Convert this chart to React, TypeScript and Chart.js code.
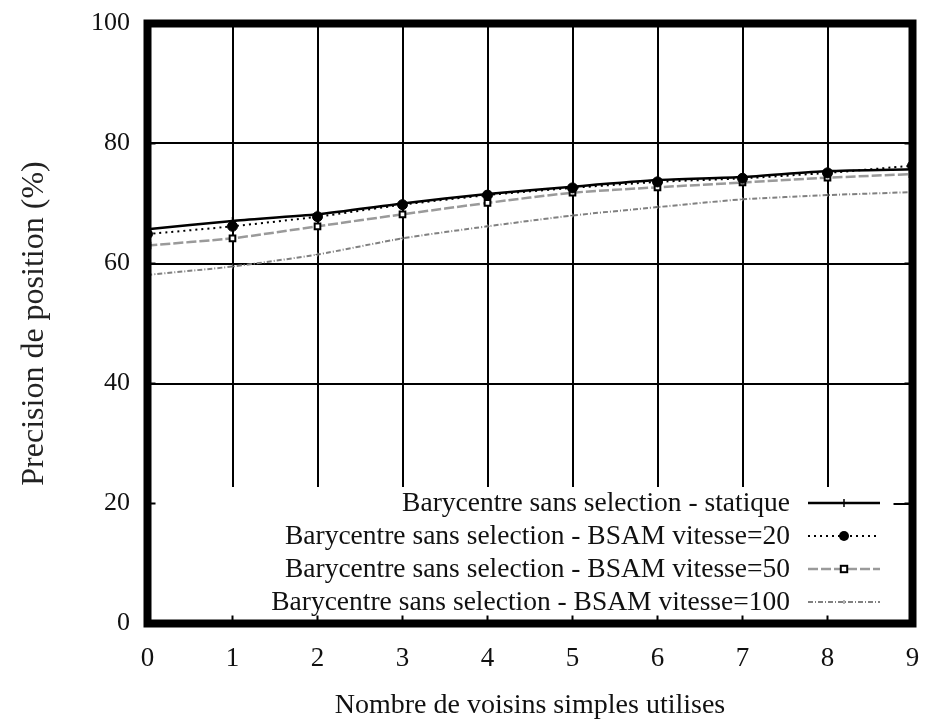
import React, { useEffect, useRef } from 'react';
import { Chart, registerables } from 'chart.js';

Chart.register(...registerables);

const xValues = [0, 1, 2, 3, 4, 5, 6, 7, 8, 9];
const seriesLabels = [
  'Barycentre sans selection - statique',
  'Barycentre sans selection - BSAM vitesse=20',
  'Barycentre sans selection - BSAM vitesse=50',
  'Barycentre sans selection - BSAM vitesse=100',
];
const staticValues = [65.7, 67.1, 68.2, 70.0, 71.6, 72.8, 73.9, 74.4, 75.4, 75.7];
const bsam20Values = [64.9, 66.2, 67.8, 69.8, 71.4, 72.6, 73.6, 74.2, 75.1, 76.3];
const bsam50Values = [63.0, 64.2, 66.2, 68.2, 70.1, 71.8, 72.7, 73.5, 74.3, 74.9];
const bsam100Values = [58.1, 59.5, 61.5, 64.2, 66.2, 68.0, 69.4, 70.7, 71.4, 71.9];
const yTickValues = [0, 20, 40, 60, 80, 100];
const xTitle = 'Nombre de voisins simples utilises';
const yTitle = 'Precision de position (%)';

const FONT = "'Liberation Serif', 'Times New Roman', Times, serif";

type SeriesStyle = {
  color: string;
  width: number;
  dash: number[];
  pointStyle: string;
  radius: number;
  pointFill: string;
  pointBorder: string;
  pointBorderWidth: number;
};

const styles: SeriesStyle[] = [
  { color: '#000000', width: 2.5, dash: [], pointStyle: 'cross', radius: 4, pointFill: '#000', pointBorder: '#000', pointBorderWidth: 1.5 },
  { color: '#000000', width: 2, dash: [2, 4], pointStyle: 'circle', radius: 5, pointFill: '#000', pointBorder: '#000', pointBorderWidth: 1 },
  { color: '#9a9a9a', width: 2.5, dash: [10, 3], pointStyle: 'rect', radius: 4, pointFill: '#fff', pointBorder: '#000', pointBorderWidth: 2 },
  { color: '#808080', width: 2, dash: [5, 2, 1, 2], pointStyle: 'cross', radius: 2, pointFill: '#666', pointBorder: '#666', pointBorderWidth: 1 },
];

const seriesValues = [staticValues, bsam20Values, bsam50Values, bsam100Values];

const frameLegendPlugin = {
  id: 'frameLegend',
  afterDraw(chart: any) {
    const { ctx, chartArea: a, scales } = chart;
    const xs = scales.x;
    const ys = scales.y;
    ctx.save();

    // legend box (white, covers gridlines)
    const boxTop = a.bottom - 136.5;
    const boxRight = a.right - 19;
    ctx.fillStyle = '#ffffff';
    ctx.fillRect(a.left, boxTop, boxRight - a.left, a.bottom - boxTop);

    // small inward tick marks
    ctx.strokeStyle = '#000';
    ctx.lineWidth = 2;
    ctx.setLineDash([]);
    xValues.forEach((v) => {
      const px = xs.getPixelForValue(v);
      ctx.beginPath();
      ctx.moveTo(px, a.bottom);
      ctx.lineTo(px, a.bottom - 8);
      ctx.stroke();
    });
    yTickValues.forEach((v) => {
      const py = ys.getPixelForValue(v);
      ctx.beginPath();
      ctx.moveTo(a.left, py);
      ctx.lineTo(a.left + 8, py);
      ctx.moveTo(a.right, py);
      ctx.lineTo(a.right - 8, py);
      ctx.stroke();
    });

    // legend entries
    const rowOffsets = [120.5, 87.5, 54.5, 21.5];
    const textRight = a.right - 122.5;
    const sx1 = a.right - 104.5;
    const sx2 = a.right - 32.5;
    const sxm = (sx1 + sx2) / 2;
    ctx.font = `27.5px ${FONT}`;
    ctx.textAlign = 'right';
    ctx.textBaseline = 'middle';
    seriesLabels.forEach((label, i) => {
      const y = a.bottom - rowOffsets[i];
      const st = styles[i];
      ctx.fillStyle = '#111';
      ctx.fillText(label, textRight, y + 1);
      ctx.strokeStyle = st.color;
      ctx.lineWidth = st.width;
      ctx.setLineDash(st.dash);
      ctx.beginPath();
      ctx.moveTo(sx1, y);
      ctx.lineTo(sx2, y);
      ctx.stroke();
      ctx.setLineDash([]);
      // marker
      ctx.lineWidth = st.pointBorderWidth;
      ctx.strokeStyle = st.pointBorder;
      ctx.fillStyle = st.pointFill;
      if (st.pointStyle === 'circle') {
        ctx.beginPath();
        ctx.arc(sxm, y, st.radius, 0, Math.PI * 2);
        ctx.fill();
      } else if (st.pointStyle === 'rect') {
        const r = st.radius * 0.8;
        ctx.fillRect(sxm - r, y - r, 2 * r, 2 * r);
        ctx.strokeRect(sxm - r, y - r, 2 * r, 2 * r);
      } else {
        ctx.beginPath();
        ctx.moveTo(sxm, y - st.radius);
        ctx.lineTo(sxm, y + st.radius);
        ctx.stroke();
      }
    });

    // thick frame
    ctx.setLineDash([]);
    ctx.strokeStyle = '#000';
    ctx.lineWidth = 8;
    ctx.lineJoin = 'miter';
    ctx.strokeRect(a.left, a.top, a.right - a.left, a.bottom - a.top);
    ctx.restore();
  },
};

export default function App() {
  const canvasRef = useRef<HTMLCanvasElement | null>(null);

  useEffect(() => {
    document.body.style.margin = '0';
    const canvas = canvasRef.current;
    if (!canvas) return;
    const datasets = seriesLabels.map((label, i) => {
      const st = styles[i];
      return {
        label,
        data: xValues.map((x, j) => ({ x, y: seriesValues[i][j] })),
        borderColor: st.color,
        borderWidth: st.width,
        borderDash: st.dash,
        backgroundColor: st.pointFill,
        pointStyle: st.pointStyle,
        pointRadius: st.radius,
        pointBackgroundColor: st.pointFill,
        pointBorderColor: st.pointBorder,
        pointBorderWidth: st.pointBorderWidth,
        tension: 0.2,
        fill: false,
        clip: 0,
      };
    });
    const chart = new Chart(canvas, {
      type: 'line',
      data: { datasets },
      options: {
        responsive: false,
        animation: false,
        devicePixelRatio: 1,
        layout: { padding: { top: 23.5, right: 12.5, bottom: 0, left: 0 } },
        plugins: {
          legend: { display: false },
          tooltip: { enabled: false },
        },
        scales: {
          x: {
            type: 'linear',
            min: 0,
            max: 9,
            afterFit: (s: any) => {
              s.height = 102.5;
            },
            afterBuildTicks: (s: any) => {
              s.ticks = xValues.map((v) => ({ value: v }));
            },
            ticks: {
              autoSkip: false,
              maxRotation: 0,
              padding: 0,
              color: '#111',
              font: { family: FONT, size: 27 },
              callback: (v: any) => String(v),
            },
            grid: { color: '#000', lineWidth: 2, drawTicks: true, tickLength: 19, tickColor: 'rgba(0,0,0,0)' },
            border: { display: false },
            title: {
              display: true,
              text: xTitle,
              color: '#111',
              font: { family: FONT, size: 28 },
              padding: { top: 0, bottom: 4 },
            },
          },
          y: {
            type: 'linear',
            min: 0,
            max: 100,
            afterFit: (s: any) => {
              s.width = 147.5;
            },
            afterBuildTicks: (s: any) => {
              s.ticks = yTickValues.map((v) => ({ value: v }));
            },
            ticks: {
              padding: 0,
              color: '#111',
              font: { family: FONT, size: 26 },
              callback: (v: any) => String(v),
            },
            grid: { color: '#000', lineWidth: 2, drawTicks: true, tickLength: 17.5, tickColor: 'rgba(0,0,0,0)' },
            border: { display: false },
            title: {
              display: true,
              text: yTitle,
              color: '#222',
              font: { family: FONT, size: 32 },
              padding: { top: 15, bottom: 0 },
            },
          },
        },
      },
      plugins: [frameLegendPlugin],
    } as any);
    return () => chart.destroy();
  }, []);

  return (
    <div style={{ width: 925, height: 726 }}>
      <canvas ref={canvasRef} width={925} height={726} style={{ display: 'block' }} />
    </div>
  );
}
